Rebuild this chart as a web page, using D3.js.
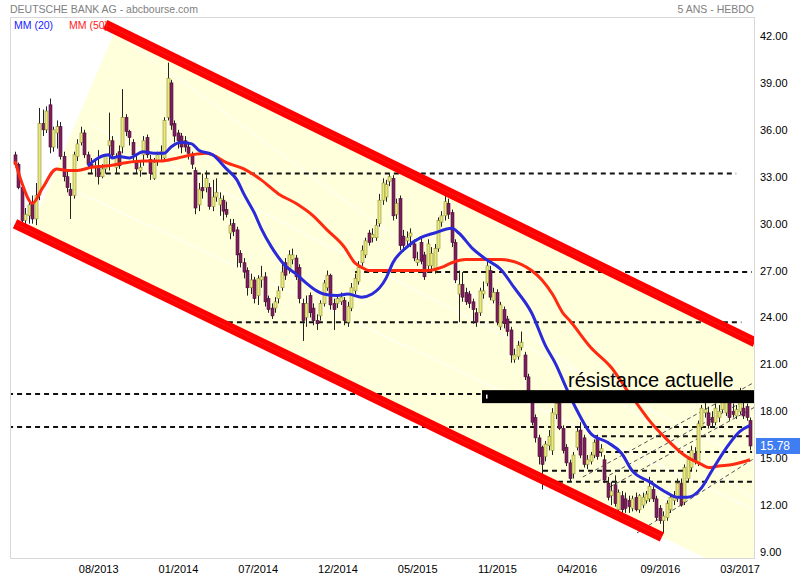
<!DOCTYPE html>
<html><head><meta charset="utf-8">
<script src="https://cdn.jsdelivr.net/npm/d3@7"></script>
<style>body{margin:0;background:#fff} text{font-family:"Liberation Sans",Arial,sans-serif}</style>
</head><body><svg id="c" width="800" height="580"></svg>
<script>
// ---- data (weekly candles, DEUTSCHE BANK AG) ----
const startDate = new Date(2013, 2, 4);
const openP = [34.4,33.8,32.3,30.2,30.5,31.3,30.3,31.8,36.4,36.0,
37.6,34.9,35.8,36.2,34.3,33.0,32.2,31.8,34.3,35.2,
35.8,34.4,33.8,33.6,33.7,33.0,33.5,35.0,35.3,33.6,
34.6,34.9,36.8,35.9,35.2,33.9,33.4,34.4,35.5,34.1,
32.9,34.0,34.4,34.2,36.8,39.0,36.4,35.8,35.6,35.3,
34.9,34.4,33.4,31.2,32.3,32.3,32.3,31.1,31.7,31.2,
31.5,30.9,29.4,30.0,29.6,28.1,27.5,27.0,25.9,26.4,
25.4,26.4,26.6,25.2,24.6,24.6,25.2,25.9,27.5,27.0,
27.7,27.8,27.2,24.9,24.0,25.4,24.6,23.8,24.1,24.9,
25.9,26.7,24.9,24.9,25.0,25.1,23.7,24.6,25.7,26.3,
27.5,28.0,29.4,29.1,29.1,30.0,31.5,31.7,32.7,32.9,
30.6,31.6,29.2,28.9,29.2,28.7,27.5,28.8,28.0,27.3,
27.3,27.0,28.4,30.1,30.5,31.3,30.7,28.8,25.5,26.1,
25.6,25.5,25.0,24.3,24.3,25.5,26.2,27.0,25.1,25.6,
23.4,24.5,23.9,23.2,21.3,21.5,22.1,21.6,20.2,18.8,
17.6,16.3,15.7,15.1,15.8,15.5,17.8,18.5,16.9,15.7,
14.7,14.0,15.7,16.8,16.3,14.6,14.8,15.2,16.3,15.4,
14.9,13.4,12.6,13.3,11.7,12.6,12.4,12.3,11.8,12.5,
11.7,12.0,12.3,12.4,13.0,12.4,11.8,11.0,11.2,11.7,
12.3,12.4,13.4,12.2,13.7,14.4,15.3,14.7,17.0,17.9,
17.9,17.6,17.3,17.6,18.1,17.9,18.7,18.0,17.7,18.0,
18.2,18.3,17.4];
const highP = [34.6,33.9,32.6,31.0,31.6,31.8,32.6,37.4,37.3,37.5,
38.0,36.2,36.6,36.5,34.6,33.4,32.6,34.6,35.4,36.2,
36.0,34.6,34.2,34.0,34.7,33.8,34.4,37.1,35.6,34.5,
35.0,38.6,37.0,36.0,35.4,34.4,34.0,35.6,35.7,34.4,
34.2,34.6,35.0,36.8,40.3,39.2,36.6,36.0,35.8,35.6,
35.1,34.6,33.6,32.6,33.2,33.4,32.6,32.8,32.9,32.0,
31.8,31.4,30.3,30.3,29.8,28.3,27.8,27.2,26.8,26.6,
26.7,27.3,26.9,25.4,24.9,25.3,26.0,27.4,27.8,28.3,
28.4,28.0,27.4,25.2,25.4,25.6,24.9,24.2,25.1,26.4,
27.0,26.8,25.2,25.5,25.6,25.3,25.0,26.2,26.8,27.6,
28.6,29.1,29.6,29.7,30.3,31.9,32.9,32.8,33.2,33.1,
31.6,31.8,29.6,29.5,29.7,29.0,28.2,29.2,28.2,29.0,
28.5,28.7,30.4,30.8,32.1,31.6,30.9,29.0,27.0,26.9,
25.9,25.7,25.2,24.6,25.9,26.3,27.8,27.3,25.9,25.8,
25.0,24.7,24.1,23.4,22.0,22.5,23.1,21.8,20.4,19.1,
17.8,16.5,15.8,16.1,16.8,18.2,18.8,18.6,17.1,15.9,
14.9,15.4,17.0,17.3,16.5,15.2,15.4,16.2,16.5,15.9,
15.2,13.8,13.5,13.9,13.0,12.9,12.8,12.6,12.6,12.8,
12.7,12.8,12.9,13.8,13.2,12.6,12.0,11.6,12.3,12.7,
12.9,13.7,13.7,14.6,15.1,15.8,15.7,17.4,18.4,18.8,
18.3,18.0,18.5,18.4,19.2,19.0,19.0,18.5,18.4,19.5,
18.6,18.5,17.6];
const lowP = [33.6,32.2,30.0,29.9,30.0,30.0,29.9,31.5,35.6,35.8,
34.5,34.6,34.8,34.1,32.7,32.0,30.3,31.6,34.0,35.0,
34.2,33.5,33.2,33.0,32.5,32.9,33.2,33.4,34.2,33.2,
33.5,34.5,35.6,35.0,34.0,33.2,33.0,33.7,34.2,32.8,
32.8,33.7,34.0,34.0,36.6,36.0,35.2,34.8,34.5,34.6,
34.1,33.5,30.6,30.8,31.6,32.0,30.9,30.8,31.4,30.5,
30.2,30.4,29.0,29.2,27.2,27.2,26.5,25.4,25.5,24.9,
24.8,25.9,24.7,24.3,23.9,24.3,24.9,25.7,26.4,26.8,
27.4,26.4,24.9,22.5,23.4,24.0,23.5,23.2,23.8,24.7,
25.7,24.5,23.2,24.6,24.8,23.5,23.4,24.4,25.5,26.1,
27.3,27.8,28.6,28.8,28.9,29.8,31.2,31.4,32.4,30.2,
30.3,28.3,28.2,28.6,28.5,27.6,27.3,27.4,26.4,27.0,
27.0,26.8,28.2,29.8,30.2,30.3,28.5,26.2,23.7,25.0,
24.8,24.6,23.6,23.4,24.1,25.2,26.0,25.1,24.9,23.5,
23.2,23.3,22.8,21.1,21.1,21.3,21.9,20.0,19.0,17.1,
16.0,14.6,13.0,14.8,15.5,15.2,17.5,16.8,15.3,14.5,
13.5,13.7,15.5,15.0,14.4,14.3,14.6,15.0,14.9,15.1,
13.4,12.3,12.0,11.9,11.4,11.5,11.5,11.5,11.6,11.6,
11.5,11.8,12.1,12.2,12.2,11.0,10.8,10.2,11.0,11.5,
12.0,12.2,11.9,12.0,13.5,14.2,14.6,14.5,16.8,17.6,
16.9,17.0,17.1,17.3,17.9,17.7,17.4,17.6,17.5,17.8,
17.5,17.4,15.5];
const closeP = [33.8,32.3,30.2,30.6,31.2,30.3,31.8,36.4,36.0,37.2,
34.9,36.0,36.2,34.3,33.0,32.3,31.8,34.4,35.1,35.8,
34.4,33.8,33.6,33.7,33.0,33.5,34.3,35.3,34.4,34.3,
33.7,36.8,35.9,35.5,34.4,33.5,33.6,35.3,34.4,33.2,
33.9,34.4,34.6,36.6,39.3,36.3,35.6,35.3,34.9,34.9,
34.5,33.8,31.0,32.2,32.1,32.9,31.1,31.7,32.0,31.6,
30.8,30.6,29.9,29.5,28.0,27.5,26.9,25.9,26.4,25.2,
26.5,26.6,25.0,24.5,24.1,25.0,25.7,26.9,26.7,28.0,
28.0,26.6,25.2,23.8,24.9,24.3,23.8,23.6,24.9,26.2,
26.7,24.8,24.5,25.2,25.3,23.8,24.7,25.9,26.5,27.2,
28.3,28.9,28.8,29.3,29.9,31.5,32.6,32.5,33.0,30.5,
31.3,28.6,28.6,29.1,29.4,27.8,27.7,27.6,26.6,28.7,
28.1,28.4,30.2,30.5,31.4,30.6,28.8,26.4,26.1,25.3,
25.0,24.9,24.5,23.7,25.7,25.7,27.3,25.3,25.6,23.7,
24.8,23.6,23.1,21.6,21.6,22.2,22.4,20.2,19.2,17.3,
16.3,15.1,14.6,15.9,16.4,17.9,18.5,16.9,15.5,14.7,
13.7,15.2,16.7,15.2,14.6,14.9,15.2,16.0,15.1,15.6,
13.6,12.5,12.9,12.1,12.8,11.7,11.8,11.9,12.4,11.7,
12.6,12.5,12.7,13.2,12.4,11.2,11.0,11.3,12.1,12.5,
12.6,13.4,12.0,14.4,14.9,15.5,14.8,17.2,18.2,18.1,
17.1,17.3,18.2,18.0,18.7,18.6,17.6,17.8,18.1,18.9,
17.7,17.6,15.78];

// moving averages (week index, value)
const ma20Week = [21,24,27,28,30,33,37,40,43,45,48,51,53,57,61,64,66,69,71,74,78,81,84,87,89,93,96,100,103,107,109,113,117,121,126,128,132,136,140,144,149,153,156,159,162,166,171,175,178,183,188,191,194,198,201,205,209,212];
const ma20Val = [33.7,34.2,34.4,34.2,34.3,34.2,34.6,34.5,34.5,34.9,35.2,35.1,34.7,34.4,33.5,32.8,31.9,30.7,29.7,28.5,27.3,26.8,26.2,25.7,25.5,25.4,25.5,25.3,25.5,26.5,27.5,28.5,29.1,29.4,29.7,29.4,28.4,27.7,27.1,25.9,24.3,22.2,21.0,19.5,18.1,16.6,16.0,15.3,14.2,13.5,12.8,12.5,12.5,13.1,14.2,15.6,16.7,17.1];
const ma50Week = [0,2,5,8,12,15,18,22,27,32,37,42,47,51,55,57,61,66,71,76,81,86,90,95,98,100,102,107,113,119,123,126,130,134,140,146,149,152,155,158,160,166,172,177,180,183,188,193,198,200,203,207,212];
const ma50Val = [34.0,32.6,31.3,32.3,33.5,33.4,33.4,33.6,33.7,33.9,34.0,34.0,34.2,34.4,34.5,34.4,33.9,33.5,32.8,31.9,31.3,30.5,29.6,28.5,27.5,27.2,27.0,27.0,27.0,27.0,27.2,27.5,27.7,27.7,27.7,27.4,27.0,26.4,25.5,24.3,23.8,22.1,20.8,19.2,18.3,17.4,16.2,15.2,14.6,14.4,14.5,14.6,14.9];

const yTicks = [9,12,15,18,21,24,27,30,33,36,39,42];
const xTickWeeks = [24,47,70,93,116,139,162,186,209];
const lastPrice = 15.78;

// drawn annotations (week index, price)
const channelUpper = [[26.0,42.74],[213.4,22.42]];
const channelLower = [[0,30.0],[186.6,9.96]];
const channelFill = [[29.1,42.48],[213.4,22.42],[213.4,7.08],[4.3,29.54]];
const faintLines = [[[21.6,36.37],[213.4,14.69]],[[15,32.34],[213.4,11.69]],[[28.6,42.26],[213.4,12.33]]];
const levels = [[33.2,21,208],[26.9,98.1,212.5],[23.7,61.4,209.5],[19.1,-2,134.3],[17.0,-2,215],
                [16.4,166.7,215],[15.4,167.9,212.6],[14.2,152.3,196.7],[13.5,156.6,212.6]];
const trendLines = [[[179.4,10.22],[213.4,15.01]],[[163.8,13.80],[213.4,19.87]],
                    [[167.9,13.48],[213.4,19.04]],[[171.6,13.16],[213.4,18.27]]];
const resistance = {lo:18.52, hi:19.35, w0:134.7, label:"résistance actuelle"};

// ---- layout ----
const L = 10, R = 755, T = 17, B = 559;
const N = closeP.length;
const dates = d3.range(N).map(i => d3.timeWeek.offset(startDate, i));
const x = d3.scaleLinear().domain([0, N - 1]).range([15, 750]);
const xt = d3.scaleTime().domain([dates[0], dates[N - 1]]).range([15, 750]);
const y = d3.scaleLinear().domain([9, 42]).range([552, 36]);

const svg = d3.select("#c");
svg.append("defs").append("clipPath").attr("id", "pc")
  .append("rect").attr("x", L).attr("y", T).attr("width", R - L).attr("height", B - T);

svg.append("rect").attr("x", L).attr("y", T).attr("width", R - L).attr("height", B - T).attr("fill", "#fff");
const g = svg.append("g").attr("clip-path", "url(#pc)");

const P = d => [x(d[0]), y(d[1])];
g.append("polygon").attr("points", channelFill.map(d => P(d).join(",")).join(" ")).attr("fill", "#ffffdc");

faintLines.forEach(l => g.append("line").attr("x1", P(l[0])[0]).attr("y1", P(l[0])[1])
  .attr("x2", P(l[1])[0]).attr("y2", P(l[1])[1]).attr("stroke", "#fff").attr("stroke-width", 1));

levels.forEach(([p, w0, w1]) => g.append("line").attr("x1", x(w0)).attr("x2", x(w1))
  .attr("y1", y(p)).attr("y2", y(p)).attr("stroke", "#111").attr("stroke-width", 2)
  .attr("stroke-dasharray", "5,4"));

trendLines.forEach(l => g.append("line").attr("x1", P(l[0])[0]).attr("y1", P(l[0])[1])
  .attr("x2", P(l[1])[0]).attr("y2", P(l[1])[1]).attr("stroke", "#555").attr("stroke-width", 1)
  .attr("stroke-dasharray", "4,3"));

// candles
const candles = g.append("g");
d3.range(N).forEach(i => {
  const up = closeP[i] >= openP[i];
  const cx = Math.round(x(i)) + 0.5;
  candles.append("line").attr("x1", cx).attr("x2", cx).attr("y1", y(highP[i])).attr("y2", y(lowP[i]))
    .attr("stroke", "#222").attr("stroke-width", 1);
  const top = y(Math.max(openP[i], closeP[i])), bot = y(Math.min(openP[i], closeP[i]));
  candles.append("rect").attr("x", cx - 1.5).attr("width", 3).attr("y", top)
    .attr("height", Math.max(1, bot - top))
    .attr("fill", up ? "#e8e87c" : "#7d1f5e").attr("stroke", up ? "#8e8e3a" : "#4a0e38")
    .attr("stroke-width", 0.6);
});

// moving averages
const line = d3.line().x(d => x(d[0])).y(d => y(d[1])).curve(d3.curveMonotoneX);
g.append("path").attr("d", line(ma50Week.map((w, i) => [w, ma50Val[i]])))
  .attr("fill", "none").attr("stroke", "#ff2a10").attr("stroke-width", 3);
g.append("path").attr("d", line(ma20Week.map((w, i) => [w, ma20Val[i]])))
  .attr("fill", "none").attr("stroke", "#2a2ad8").attr("stroke-width", 3);

// channel lines
[channelUpper, channelLower].forEach(l => {
  g.append("line").attr("x1", P(l[0])[0]).attr("y1", P(l[0])[1]).attr("x2", P(l[1])[0]).attr("y2", P(l[1])[1])
    .attr("stroke", "#ff0000").attr("stroke-width", 10);
  g.append("line").attr("x1", P(l[0])[0]).attr("y1", P(l[0])[1]).attr("x2", P(l[1])[0]).attr("y2", P(l[1])[1])
    .attr("stroke", "#ff6060").attr("stroke-width", 1).attr("opacity", 0.25);
});

// resistance zone
g.append("rect").attr("x", x(resistance.w0)).attr("width", R - x(resistance.w0))
  .attr("y", y(resistance.hi)).attr("height", y(resistance.lo) - y(resistance.hi)).attr("fill", "#000");
g.append("rect").attr("x", x(resistance.w0) + 4).attr("y", y((resistance.lo + resistance.hi) / 2) - 2)
  .attr("width", 1.5).attr("height", 4).attr("fill", "#fff");
svg.append("text").attr("x", 568).attr("y", y(resistance.hi) - 3).attr("font-size", 20)
  .attr("fill", "#000").text(resistance.label);

// border
svg.append("rect").attr("x", L + 0.5).attr("y", T + 0.5).attr("width", R - L - 1).attr("height", B - T - 1)
  .attr("fill", "none").attr("stroke", "#d8d8d8");

// axes
const ya = svg.append("g").attr("transform", `translate(${R},0)`)
  .call(d3.axisRight(y).tickValues(yTicks).tickSize(0).tickPadding(5).tickFormat(d3.format(".2f")));
ya.select(".domain").remove();
ya.selectAll("text").attr("font-size", 11).attr("fill", "#000").attr("font-family", "Liberation Sans, Arial, sans-serif");

const xa = svg.append("g").attr("transform", `translate(0,${B})`)
  .call(d3.axisBottom(xt).tickValues(xTickWeeks.map(w => dates[w])).tickSize(0).tickPadding(6)
    .tickFormat(d3.timeFormat("%m/%Y")));
xa.select(".domain").remove();
xa.selectAll("text").attr("font-size", 11).attr("fill", "#000").attr("font-family", "Liberation Sans, Arial, sans-serif");

// last price tag
svg.append("rect").attr("x", R + 1).attr("y", y(lastPrice) - 8).attr("width", 45).attr("height", 16).attr("fill", "#3f7df2");
svg.append("text").attr("x", R + 5).attr("y", y(lastPrice) + 4.5).attr("font-size", 12).attr("fill", "#fff")
  .text(d3.format(".2f")(lastPrice));

// titles & legend
svg.append("text").attr("x", 10).attr("y", 13).attr("font-size", 10.5).attr("fill", "#808080")
  .text("DEUTSCHE BANK AG - abcbourse.com");
svg.append("text").attr("x", R - 1).attr("y", 13).attr("font-size", 10.5).attr("fill", "#808080")
  .attr("text-anchor", "end").text("5 ANS - HEBDO");
svg.append("text").attr("x", 14).attr("y", 29).attr("font-size", 10.5).attr("fill", "#1a1aff").text("MM (20)");
svg.append("text").attr("x", 69).attr("y", 29).attr("font-size", 10.5).attr("fill", "#ff1a1a").text("MM (50)");
</script></body></html>
